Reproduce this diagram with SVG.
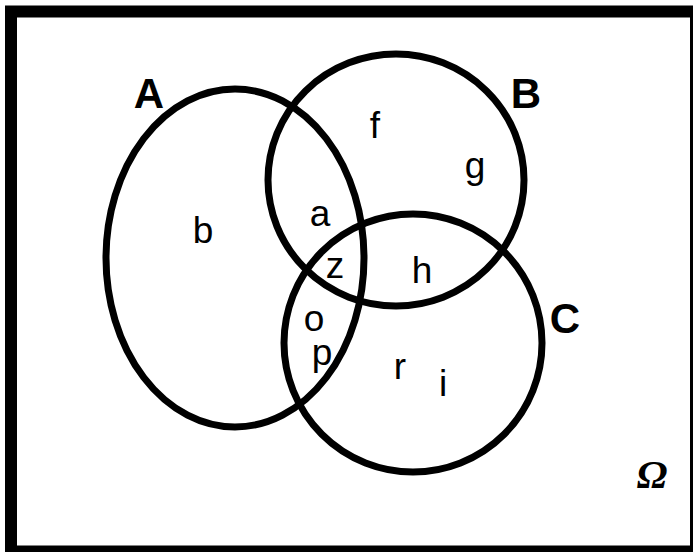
<svg xmlns="http://www.w3.org/2000/svg" width="693" height="552" viewBox="0 0 693 552">
<style>
.set{fill:none;stroke:#000;stroke-width:7}
.lbl{font-family:"Liberation Sans",Arial,sans-serif;font-weight:bold;font-size:42px;text-anchor:middle;fill:#000}
.el{font-family:"Liberation Sans",Arial,sans-serif;font-size:37px;text-anchor:middle;fill:#000}
.om{font-family:"Liberation Serif","Times New Roman",serif;font-weight:bold;font-style:italic;font-size:41px;text-anchor:middle;fill:#000}
</style>
<rect x="0" y="0" width="693" height="552" fill="#fff"/>
<g id="universe">
<rect x="11" y="11.5" width="685" height="540" fill="none" stroke="#000" stroke-width="12"/>
<text class="om" x="652" y="488">Ω</text>
</g>
<g id="setA">
<ellipse class="set" cx="235" cy="258" rx="129" ry="169"/>
<text class="lbl" x="149" y="108">A</text>
</g>
<g id="setB">
<ellipse class="set" cx="396" cy="180" rx="128" ry="126"/>
<text class="lbl" x="526" y="108">B</text>
</g>
<g id="setC">
<ellipse class="set" cx="413" cy="343" rx="129" ry="129"/>
<text class="lbl" x="565" y="333">C</text>
</g>
<g id="elements">
<text class="el" x="203" y="243">b</text>
<text class="el" x="320" y="226">a</text>
<text class="el" x="375" y="138">f</text>
<text class="el" x="475" y="178">g</text>
<text class="el" x="335" y="278">z</text>
<text class="el" x="422" y="283">h</text>
<text class="el" x="314" y="331">o</text>
<text class="el" x="322" y="365">p</text>
<text class="el" x="400" y="379">r</text>
<text class="el" x="443" y="396">i</text>
</g>
</svg>
